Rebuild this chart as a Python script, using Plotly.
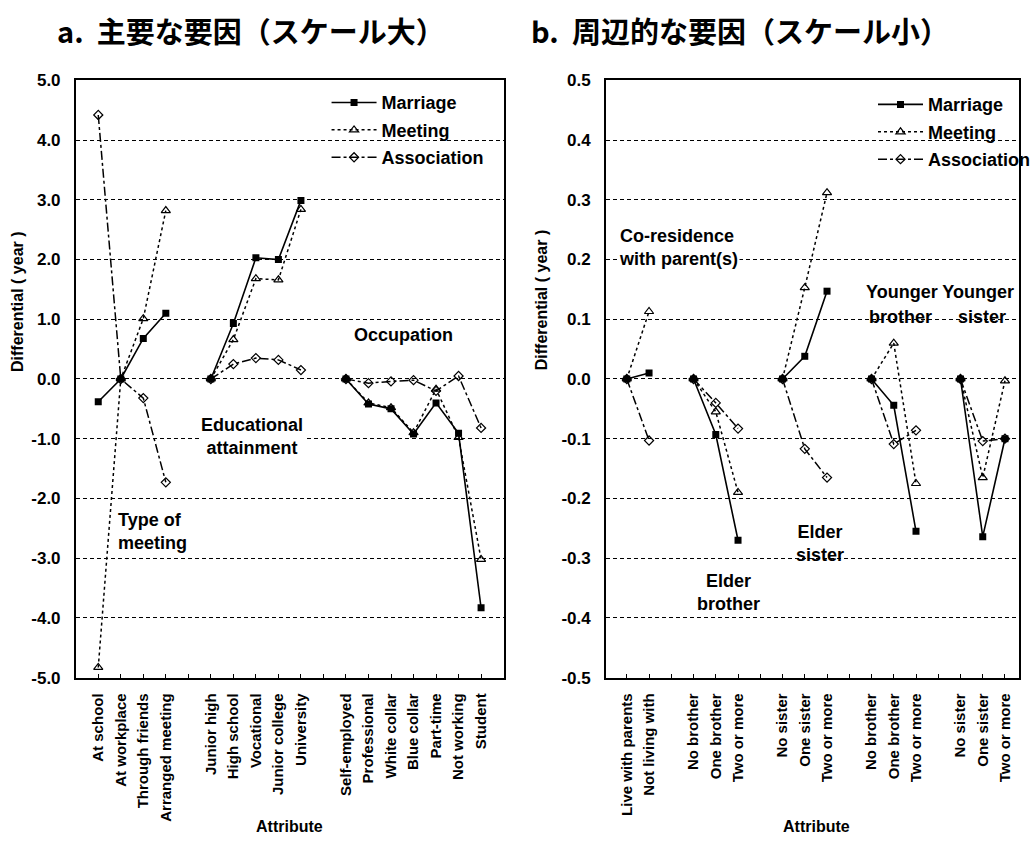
import plotly.graph_objects as go

# ---- panel a: main factors (large scale) ----
cats_a = ["At school", "At workplace", "Through friends", "Arranged meeting", None,
          "Junior high", "High school", "Vocational", "Junior college", "University", None,
          "Self-employed", "Professional", "White collar", "Blue collar", "Part-time",
          "Not working", "Student"]
marriage_a = [-0.38, 0.0, 0.68, 1.10, None,
              0.0, 0.93, 2.03, 2.00, 2.99, None,
              0.0, -0.42, -0.50, -0.92, -0.40, -0.91, -3.83]
meeting_a = [-4.83, 0.0, 1.01, 2.82, None,
             0.0, 0.66, 1.68, 1.66, 2.84, None,
             0.0, -0.40, -0.48, -0.90, -0.17, -0.98, -3.02]
association_a = [4.42, 0.0, -0.32, -1.73, None,
                 0.0, 0.25, 0.35, 0.32, 0.15, None,
                 0.0, -0.07, -0.04, -0.02, -0.20, 0.05, -0.82]
yticks_a = [5.0, 4.0, 3.0, 2.0, 1.0, 0.0, -1.0, -2.0, -3.0, -4.0, -5.0]

# ---- panel b: peripheral factors (small scale) ----
cats_b = ["Live with parents", "Not living with", None,
          "No brother", "One brother", "Two or more", None,
          "No sister", "One sister", "Two or more", None,
          "No brother", "One brother", "Two or more", None,
          "No sister", "One sister", "Two or more"]
marriage_b = [0.0, 0.01, None, 0.0, -0.093, -0.27, None, 0.0, 0.038, 0.147, None,
              0.0, -0.044, -0.255, None, 0.0, -0.264, -0.10]
meeting_b = [0.0, 0.113, None, 0.0, -0.055, -0.19, None, 0.0, 0.153, 0.312, None,
             0.0, 0.06, -0.175, None, 0.0, -0.165, -0.003]
association_b = [0.0, -0.103, None, 0.0, -0.04, -0.083, None, 0.0, -0.117, -0.165, None,
                 0.0, -0.109, -0.086, None, 0.0, -0.104, -0.10]
yticks_b = [0.5, 0.4, 0.3, 0.2, 0.1, 0.0, -0.1, -0.2, -0.3, -0.4, -0.5]

series_names = ["Marriage", "Meeting", "Association"]

W, H = 1036, 845
FONT = "Liberation Sans, Arial, sans-serif"
CJK = "Noto Sans CJK JP, sans-serif"

styles = [
    dict(line=dict(color="black", width=1.6, dash="solid"),
         marker=dict(symbol="square", size=7, color="black")),
    dict(line=dict(color="black", width=1.5, dash="dot"),
         marker=dict(symbol="triangle-up-open", size=8, color="black", line=dict(width=1.2))),
    dict(line=dict(color="black", width=1.5, dash="dashdot"),
         marker=dict(symbol="diamond-open", size=7, color="black", line=dict(width=1.2))),
]

fig = go.Figure()

def add_panel(cats, values, xa, ya, legend, suffix):
    xs = list(range(1, len(cats) + 1))
    for name, vals, st in zip(series_names, values, styles):
        fig.add_trace(go.Scatter(
            x=xs, y=vals, name=name, mode="lines+markers",
            line=st["line"], marker=st["marker"], connectgaps=False,
            xaxis=xa, yaxis=ya, legend=legend, legendgroup=name + suffix,
            hoverinfo="skip"))

add_panel(cats_a, [marriage_a, meeting_a, association_a], "x", "y", "legend", "a")
add_panel(cats_b, [marriage_b, meeting_b, association_b], "x2", "y2", "legend2", "b")

ydom = [1 - 684 / H, 1 - 73 / H]
tickfont = dict(family=FONT, size=15, color="black", weight="bold")
ytickfont = dict(family=FONT, size=17, color="black", weight="bold")

def xaxis_cfg(cats, dom, rng):
    return dict(domain=dom, range=rng,
                tickmode="array", tickvals=list(range(1, len(cats) + 1)),
                ticktext=[c if c else "" for c in cats],
                tickangle=-90, tickfont=tickfont, ticks="inside", ticklen=4,
                tickcolor="black", ticklabelstandoff=8,
                showline=True, linecolor="black", linewidth=1.5, mirror=True,
                showgrid=False, zeroline=False, fixedrange=True)

def yaxis_cfg(ticks, anchor, rng):
    return dict(domain=ydom, range=rng, anchor=anchor,
                tickmode="array", tickvals=ticks, ticktext=[f"{v:.1f}" for v in ticks],
                tickfont=ytickfont, ticks="inside", ticklen=4, tickcolor="black",
                ticklabelstandoff=10,
                showline=True, linecolor="black", linewidth=1.5, mirror=True,
                showgrid=True, gridcolor="black", gridwidth=1, griddash="4px,3px",
                zeroline=False, fixedrange=True)

legend_font = dict(family=FONT, size=18, color="black", weight="bold")

fig.update_layout(
    width=W, height=H,
    margin=dict(l=0, r=0, t=0, b=0),
    paper_bgcolor="white", plot_bgcolor="white",
    showlegend=True,
    xaxis=xaxis_cfg(cats_a, [77 / W, 512 / W], [0, 19]),
    yaxis=yaxis_cfg(yticks_a, "x", [-5, 5]),
    xaxis2=xaxis_cfg(cats_b, [616 / W, 1.0], [0.06, 18.63]),
    yaxis2=yaxis_cfg(yticks_b, "x2", [-0.5, 0.5]),
    legend=dict(x=332 / W, y=1 - 77 / H, xanchor="left", yanchor="top",
                bgcolor="rgba(0,0,0,0)", font=legend_font, tracegroupgap=1,
                itemwidth=45),
    legend2=dict(x=888 / W, y=1 - 79 / H, xanchor="left", yanchor="top",
                 bgcolor="rgba(0,0,0,0)", font=legend_font, tracegroupgap=1,
                 itemwidth=45),
)

ann_font = dict(family=FONT, size=18, color="black", weight="bold")

def px_note(text, x, y, xanchor="center", size=None, font=None, **kw):
    f = dict(font or ann_font)
    if size:
        f["size"] = size
    fig.add_annotation(text=text, x=x / W, y=1 - y / H, xref="paper", yref="paper",
                       xanchor=xanchor, yanchor="middle", showarrow=False, font=f,
                       align="left" if xanchor == "left" else "center", **kw)

# panel titles
title_font = dict(family=CJK, size=29, color="black", weight="bold")
px_note("a.\u00a0\u00a0主要な要因（スケール大）", 56, 21, xanchor="left", font=title_font)
px_note("b.\u00a0\u00a0周辺的な要因（スケール小）", 538, 21, xanchor="left", font=title_font)

# axis titles
axis_font = dict(family=FONT, size=16, color="black", weight="bold")
px_note("Differential ( year )", 18, 300, font=axis_font, textangle=-90)
px_note("Differential ( year )", 550, 298, font=axis_font, textangle=-90)
px_note("Attribute", 294, 836, font=axis_font)
px_note("Attribute", 830, 836, font=axis_font)

# group labels, panel a
px_note("Occupation", 410, 333)
px_note("Educational<br>attainment", 256, 437, bgcolor="white")
px_note("Type of<br>meeting", 118, 535, xanchor="left")

# group labels, panel b
px_note("Co-residence<br>with parent(s)", 627, 244, xanchor="left", bgcolor="white")
px_note("Younger Younger", 878, 289, xanchor="left")
px_note("brother", 916, 315)
px_note("sister", 998, 315)
px_note("Elder<br>sister", 834, 547)
px_note("Elder<br>brother", 741, 597)

fig.write_html("out.html")
